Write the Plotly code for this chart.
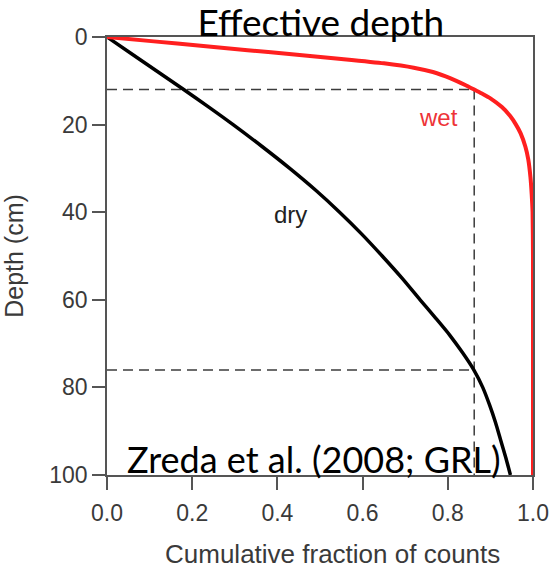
import plotly.graph_objects as go

# ---- data ----
dry_depth = [0, 4, 8, 12, 16, 20, 25, 30, 35, 40, 45, 50, 55, 60, 64, 68, 72, 76, 80, 84, 88, 92, 96, 100]
dry_fraction = [0, 0.060, 0.120, 0.180, 0.239, 0.296, 0.364, 0.429, 0.490, 0.546, 0.598, 0.646, 0.692,
                0.735, 0.770, 0.804, 0.834, 0.861, 0.882, 0.898, 0.912, 0.924, 0.936, 0.947]

wet_depth = [0, 1, 2, 3, 4, 5, 6, 7, 8, 9, 10, 11, 12, 13, 14, 16, 18, 20, 22, 25, 28, 32, 36, 40, 50, 60, 80, 100]
wet_fraction = [0, 0.11, 0.22, 0.33, 0.44, 0.55, 0.65, 0.72, 0.765, 0.795, 0.82, 0.842, 0.862, 0.882,
                0.9, 0.927, 0.946, 0.96, 0.971, 0.982, 0.989, 0.994, 0.997, 0.999, 1.0, 1.0, 1.0, 1.0]

effective_fraction = 0.862
effective_depth_wet = 12
effective_depth_dry = 76
max_depth = 100

x_tick_values = [0, 0.2, 0.4, 0.6, 0.8, 1.0]
x_tick_labels = ["0.0", "0.2", "0.4", "0.6", "0.8", "1.0"]
y_tick_values = [0, 20, 40, 60, 80, 100]
y_tick_labels = ["0", "20", "40", "60", "80", "100"]

title_text = "Effective depth"
source_text = "Zreda et al. (2008; GRL)"
x_title = "Cumulative fraction of counts"
y_title = "Depth (cm)"

RED = "#ff1f1f"
AXIS = "#555555"
TEXT = "#3a3a3a"
HELV = "Liberation Sans, Arial, Helvetica, sans-serif"
CAL = "Lato, Carlito, Calibri, sans-serif"

W, H = 553, 569
M = dict(l=107, r=20, t=37, b=94)
plot_h = H - M["t"] - M["b"]

fig = go.Figure()

dash_style = dict(color="#3c3c3c", width=1.5, dash="10px,6px")
# dashed guide lines
fig.add_trace(go.Scatter(x=[0, effective_fraction], y=[effective_depth_wet, effective_depth_wet],
                         mode="lines", line=dash_style, hoverinfo="skip", showlegend=False))
fig.add_trace(go.Scatter(x=[0, effective_fraction], y=[effective_depth_dry, effective_depth_dry],
                         mode="lines", line=dash_style, hoverinfo="skip", showlegend=False))
fig.add_trace(go.Scatter(x=[effective_fraction, effective_fraction], y=[effective_depth_wet, max_depth],
                         mode="lines", line=dash_style, hoverinfo="skip", showlegend=False))

# curves
fig.add_trace(go.Scatter(x=dry_fraction, y=dry_depth, mode="lines", name="dry",
                         line=dict(color="black", width=3.5, shape="spline", smoothing=0.7),
                         showlegend=False))
fig.add_trace(go.Scatter(x=wet_fraction, y=wet_depth, mode="lines", name="wet",
                         line=dict(color=RED, width=4, shape="spline", smoothing=0.6),
                         showlegend=False))

fig.add_annotation(x=0.777, y=18.3, xref="x", yref="y", text="wet", showarrow=False,
                   font=dict(family=HELV, size=24, color="#ee3338"))
fig.add_annotation(x=0.431, y=40.5, xref="x", yref="y", text="dry", showarrow=False,
                   font=dict(family=HELV, size=24, color="#222222"))
fig.add_annotation(x=0.486, y=96.3, xref="x", yref="y", text=source_text, showarrow=False,
                   font=dict(family=CAL, size=36, color="black"))

# x-axis title placed below the tick labels
fig.add_annotation(x=0.53, y=-(554 - (H - M["b"])) / plot_h, xref="paper", yref="paper",
                   text=x_title, showarrow=False, xanchor="center", yanchor="middle",
                   font=dict(family=HELV, size=26, color=TEXT))

fig.update_layout(
    width=W, height=H,
    margin=M,
    paper_bgcolor="white", plot_bgcolor="white",
    title=dict(text=title_text, x=0.502, xref="paper", y=1 - 23 / H, yref="container",
               xanchor="center", yanchor="middle",
               font=dict(family=CAL, size=37, color="black")),
    showlegend=False,
)

fig.update_xaxes(range=[0, 1], tickvals=x_tick_values, ticktext=x_tick_labels,
                 showline=True, mirror=True, linecolor=AXIS, linewidth=1.5,
                 ticks="outside", ticklen=13, tickwidth=1.5, tickcolor=AXIS,
                 showgrid=False, zeroline=False, ticklabelstandoff=4,
                 tickfont=dict(family=HELV, size=23, color=TEXT),
                 automargin=False)
fig.update_yaxes(range=[max_depth, 0], tickvals=y_tick_values, ticktext=y_tick_labels,
                 showline=True, mirror=True, linecolor=AXIS, linewidth=1.5,
                 ticks="outside", ticklen=13, tickwidth=1.5, tickcolor=AXIS,
                 showgrid=False, zeroline=False,
                 tickfont=dict(family=HELV, size=23, color=TEXT),
                 title=dict(text=y_title, font=dict(family=HELV, size=25, color=TEXT), standoff=20),
                 automargin="width")

fig.write_html("out.html")
